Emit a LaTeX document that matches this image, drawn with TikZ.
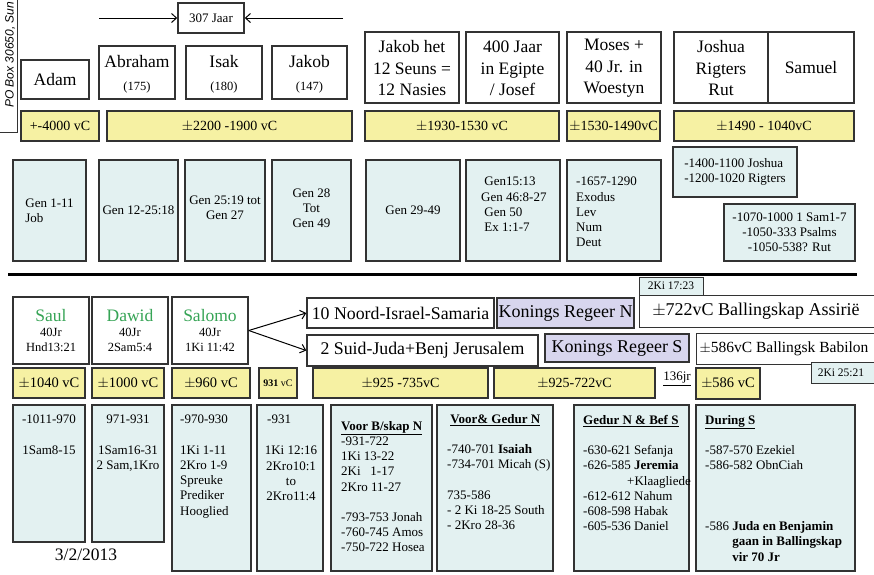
\documentclass[tikz,border=0pt]{standalone}
\usepackage{fontspec}
\setmainfont{Liberation Serif}
\newfontfamily\sansfam{Liberation Sans}
\usetikzlibrary{arrows.meta,fit}
\definecolor{ylw}{HTML}{F6F1A3}
\definecolor{lblue}{HTML}{E3F1F1}
\definecolor{lav}{HTML}{D8D6EE}
\definecolor{grn}{HTML}{36A455}
\definecolor{bord}{HTML}{333333}
\newcommand\fsz[2]{\fontsize{#1}{#2}\selectfont}
\begin{document}
\begin{tikzpicture}[x=1pt,y=-1pt,
  box/.style={draw=bord, line width=1.5pt, inner sep=0pt},
  wbox/.style={box, fill=white},
  ybox/.style={box, fill=ylw},
  bbox/.style={box, fill=lblue},
  lbox/.style={box, fill=lav},
  thinbox/.style={draw=bord, line width=1pt, inner sep=0pt},
  lbl/.style={inner sep=0pt, align=center},
  big/.style={font=\fsz{17.5}{21.5}},
  yt/.style={lbl, font=\fsz{14}{16}},
  yt2/.style={lbl, font=\fsz{14.5}{16}},
  ktxt/.style={lbl, font=\fsz{18}{20}},
  txt/.style={inner sep=0pt, font=\fsz{13}{15.2}},
  arr/.style={draw=black, line width=1pt, -{Straight Barb[length=5pt,width=9pt]}}]
\useasboundingbox (0,0) rectangle (874,574);

% left edge address strip
\draw[draw=bord, line width=1pt] (17,0) -- (17,132) -- (0,132);
\node[rotate=90, anchor=base west, inner sep=0pt, font=\sansfam\itshape\fsz{12}{14}] (pobox) at (13.5,108) {PO Box 30650, Sun};

% 307 Jaar
\node[wbox, fit={(178,3)(244,33)}] (jaar) {};
\node[lbl, font=\fsz{13}{15}] (jaart) at (jaar.center) {307 Jaar};
\coordinate (lft) at (99,18);
\coordinate (rgt) at (343,18);
\draw[arr] (lft) -- (jaar.west);
\draw[arr] (rgt) -- (jaar.east);

% top white boxes
\node[wbox, fit={(21,60)(89,99)}] (adam) {};
\node[lbl, big] at (adam.center) {Adam};
\node[wbox, fit={(99,46)(175,99)}] (abraham) {};
\node[lbl, big] at ([yshift=-2pt]abraham.center) {Abraham\\[2pt]{\fsz{12.5}{14}(175)}};
\node[wbox, fit={(186,46)(262,99)}] (isak) {};
\node[lbl, big] at ([yshift=-2pt]isak.center) {Isak\\[2pt]{\fsz{12.5}{14}(180)}};
\node[wbox, fit={(272,46)(347,99)}] (jakob) {};
\node[lbl, big] at ([yshift=-2pt]jakob.center) {Jakob\\[2pt]{\fsz{12.5}{14}(147)}};
\node[wbox, fit={(365,32)(459,103)}] (seuns) {};
\node[lbl, big] at ([yshift=-1pt]seuns.center) {Jakob het\\12 Seuns =\\12 Nasies};
\node[wbox, fit={(466,32)(559,103)}] (egipte) {};
\node[lbl, big] at ([yshift=-1pt]egipte.center) {400 Jaar\\in Egipte\\/ Josef};
\node[wbox, fit={(567,32)(661,103)}] (moses) {};
\node[lbl, big] at ([yshift=-1pt]moses.center) {Moses +\\40 Jr. in\\Woestyn};
\node[wbox, fit={(674,32)(768,103)}] (joshua) {};
\node[lbl, big] at ([yshift=-1pt]joshua.center) {Joshua\\Rigters\\Rut};
\node[wbox, fit={(768,32)(854,103)}] (samuel) {};
\node[lbl, big] at (samuel.center) {Samuel};

% yellow row 1
\node[ybox, fit={(21,111)(99,141)}] (y1) {};
\node[yt] at (y1.center) {+-4000 vC};
\node[ybox, fit={(107,111)(352,141)}] (y2) {};
\node[yt] at (y2.center) {$\pm$2200 -1900 vC};
\node[ybox, fit={(365,111)(559,141)}] (y3) {};
\node[yt] at (y3.center) {$\pm$1930-1530 vC};
\node[ybox, fit={(567,111)(660,141)}] (y4) {};
\node[yt] at (y4.center) {$\pm$1530-1490vC};
\node[ybox, fit={(674,111)(854,141)}] (y5) {};
\node[yt] at (y5.center) {$\pm$1490 - 1040vC};

% middle blue row
\node[bbox, fit={(13,160)(86,261)}] (m1) {};
\node[txt, align=left] at (m1.center) {Gen 1-11\\Job};
\node[bbox, fit={(99,160)(178,261)}] (m2) {};
\node[txt, align=center] at (m2.center) {Gen 12-25:18};
\node[bbox, fit={(185,160)(265,261)}] (m3) {};
\node[txt, align=center] at ([yshift=3pt]m3.center) {Gen 25:19 tot\\Gen 27};
\node[bbox, fit={(272,160)(351,261)}] (m4) {};
\node[txt, align=center] at ([yshift=2pt]m4.center) {Gen 28\\Tot\\Gen 49};
\node[bbox, fit={(366,160)(460,261)}] (m5) {};
\node[txt, align=center] at (m5.center) {Gen 29-49};
\node[bbox, fit={(466,160)(560,261)}] (m6) {};
\node[txt, anchor=north west, align=left] (m6t) at (481,177) {\ Gen15:13\\Gen 46:8-27\\\ Gen 50\\\ Ex 1:1-7};
\node[bbox, fit={(567,160)(661,261)}] (m7) {};
\node[txt, anchor=north west, align=left] (m7t) at (576,177) {-1657-1290\\Exodus\\Lev\\Num\\Deut};
\node[bbox, fit={(673,147)(797,197)}] (m8) {};
\node[txt, align=left] at (m8.center) {-1400-1100 Joshua\\-1200-1020 Rigters};
\node[bbox, fit={(724,204)(855,261)}] (m9) {};
\node[txt, align=center] at (m9.center) {-1070-1000 1 Sam1-7\\-1050-333 Psalms\\-1050-538? Rut};

% separator
\draw[line width=3pt] (8,274) -- (857,274);

% kings
\node[wbox, fit={(13,297)(89,364)}] (saul) {};
\node[lbl, font=\fsz{12.5}{15}] at (saul.center) {{\color{grn}\fsz{17.5}{19}Saul}\\40Jr\\Hnd13:21};
\node[wbox, fit={(92,297)(168,364)}] (dawid) {};
\node[lbl, font=\fsz{12.5}{15}] at (dawid.center) {{\color{grn}\fsz{17.5}{19}Dawid}\\40Jr\\2Sam5:4};
\node[wbox, fit={(172,297)(248,364)}] (salomo) {};
\node[lbl, font=\fsz{12.5}{15}] at (salomo.center) {{\color{grn}\fsz{17.5}{19}Salomo}\\40Jr\\1Ki 11:42};

% kingdoms
\node[wbox, fit={(307,298)(494,328)}] (noord) {};
\node[ktxt, font=\fsz{17.8}{20}] at (noord.center) {10 Noord-Israel-Samaria};
\node[lbox, fit={(497,298)(634,328)}] (konN) {};
\node[ktxt] at (konN.center) {Konings Regeer N};
\node[thinbox, fill=lblue, fit={(639,277)(703,295)}] (ki17) {};
\node[lbl, font=\fsz{11.5}{13}] at (ki17.center) {2Ki 17:23};
\node[thinbox, fill=white, fit={(639,295)(880,327)}] (assir) {};
\node[ktxt] at (756,311) {$\pm$722vC Ballingskap Assirië};
\node[wbox, fit={(307,335)(538,366)}] (suid) {};
\node[ktxt, font=\fsz{17.8}{20}] at (suid.center) {2 Suid-Juda+Benj Jerusalem};
\node[lbox, fit={(545,334)(689,362)}] (konS) {};
\node[ktxt] at (konS.center) {Konings Regeer S};
\node[thinbox, fill=white, fit={(696,333)(880,364)}] (babil) {};
\node[lbl, font=\fsz{15.5}{18}] at (784,348.5) {$\pm$586vC Ballingsk Babilon};
\node[thinbox, fill=lblue, fit={(811,362)(880,383)}] (ki25) {};
\node[lbl, font=\fsz{11.5}{13}] at (841,372.5) {2Ki 25:21};

\draw[arr] (salomo.east) -- (noord.west);
\draw[arr] (salomo.east) -- (suid.west);

% yellow row 2
\node[ybox, fit={(13,368)(85,398)}] (z1) {};
\node[yt2] at (z1.center) {$\pm$1040 vC};
\node[ybox, fit={(92,368)(164,398)}] (z2) {};
\node[yt2] at (z2.center) {$\pm$1000 vC};
\node[ybox, fit={(172,368)(250,398)}] (z3) {};
\node[yt2] at (z3.center) {$\pm$960 vC};
\node[ybox, fit={(259,368)(297,398)}] (z4) {};
\node[lbl, font=\fsz{10}{12}] at (z4.center) {\textbf{931} vC};
\node[ybox, fit={(313,368)(488,398)}] (z5) {};
\node[yt] at (z5.center) {$\pm$925 -735vC};
\node[ybox, fit={(494,368)(655,398)}] (z6) {};
\node[yt] at (z6.center) {$\pm$925-722vC};
\node[inner sep=0pt, font=\fsz{13}{15}] (jr) at (677,379) {\underline{136jr}};
\node[ybox, fit={(696,368)(760,399)}] (z7) {};
\node[yt2] at (z7.center) {$\pm$586 vC};

% bottom blue boxes
\node[bbox, fit={(13,405)(85,542)}] (b1) {};
\node[txt, anchor=north, align=center] (b1t) at (49,415) {-1011-970\\\mbox{}\\1Sam8-15};
\node[bbox, fit={(92,405)(164,542)}] (b2) {};
\node[txt, anchor=north, align=center] (b2t) at (128,415) {971-931\\\mbox{}\\1Sam16-31\\2 Sam,1Kro};
\node[bbox, fit={(172,405)(251,571)}] (b3) {};
\node[txt, anchor=north west, align=left] (b3t) at (180,415) {-970-930\\\mbox{}\\1Ki 1-11\\2Kro 1-9\\Spreuke\\Prediker\\Hooglied};
\node[bbox, fit={(257,405)(323,571)}] (b4) {};
\node[txt, anchor=north west] (b4a) at (267,415) {-931};
\node[txt, anchor=north, align=center] (b4t) at (291,446) {1Ki 12:16\\2Kro10:1\\to\\2Kro11:4};
\node[bbox, fit={(331,405)(432,571)}] (b5) {};
\node[txt, anchor=north west, align=left] (b5t) at (341,421) {\underline{\textbf{Voor B/skap N}}\\-931-722\\1Ki 13-22\\2Ki\ \ \ 1-17\\2Kro 11-27\\\mbox{}\\-793-753 Jonah\\-760-745 Amos\\-750-722 Hosea};
\node[bbox, fit={(437,405)(553,571)}] (b6) {};
\node[txt, anchor=north west, align=left] (b6t) at (447,414) {\ \underline{\textbf{Voor\& Gedur N}}\\\mbox{}\\-740-701 \textbf{Isaiah}\\-734-701 Micah (S)\\\mbox{}\\735-586\\- 2 Ki 18-25 South\\- 2Kro 28-36};
\node[bbox, fit={(574,405)(689,571)}] (b7) {};
\node[bbox, fit={(696,405)(855,571)}] (b8) {};
\node[txt, anchor=north west, align=left] (b7t) at (583,415) {\underline{\textbf{Gedur N \& Bef S}}\\\mbox{}\\-630-621 Sefanja\\-626-585 \textbf{Jeremia}\\\hspace*{44pt}+Klaagliede\\-612-612 Nahum\\-608-598 Habak\\-605-536 Daniel};
\node[txt, anchor=north west, align=left] (b8t) at (705,415) {\underline{\textbf{During S}}\\\mbox{}\\-587-570 Ezekiel\\-586-582 ObnCiah\\\mbox{}\\\mbox{}\\\mbox{}\\-586 \textbf{Juda en Benjamin}\\\hphantom{-586 }\textbf{gaan in Ballingskap}\\\hphantom{-586 }\textbf{vir 70 Jr}};

% date
\node[inner sep=0pt, font=\fsz{17.5}{20}] (date) at (86,555) {3/2/2013};
\end{tikzpicture}
\end{document}
